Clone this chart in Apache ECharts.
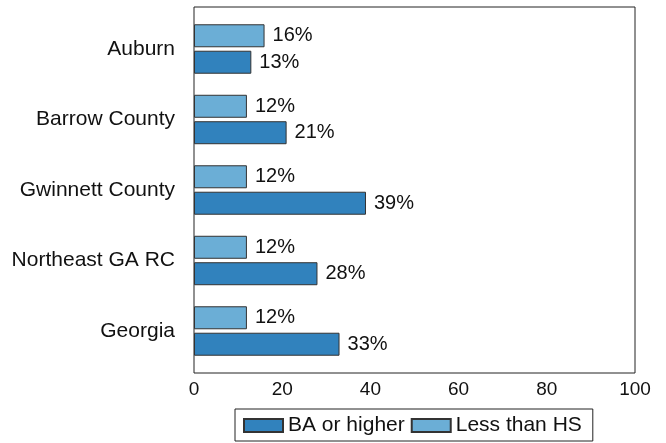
<!DOCTYPE html>
<html>
<head>
<meta charset="utf-8">
<script src="https://cdn.jsdelivr.net/npm/echarts@6/dist/echarts.min.js"></script>
<style>html,body{margin:0;padding:0;background:#fff;}#c{width:666px;height:443px;}</style>
</head>
<body>
<div id="c"></div>
<script>
var categories = ['Auburn', 'Barrow County', 'Gwinnett County', 'Northeast GA RC', 'Georgia'];
var lessThanHS = [16, 12, 12, 12, 12];
var baOrHigher = [13, 21, 39, 28, 33];
var xTicks = [0, 20, 40, 60, 80, 100];

var FONT = '"Liberation Sans", Arial, sans-serif';
var chart = echarts.init(document.getElementById('c'), null, {renderer: 'canvas'});
var labelStyle = {show: true, position: 'right', distance: 8, formatter: '{c}%', fontSize: 20, color: '#111', fontFamily: FONT};
chart.setOption({
  animation: false,
  textStyle: {fontFamily: FONT},
  grid: [
    {left: 194, right: 31, top: 13.75, bottom: 76.75, show: false},
    {left: 194, right: 31, top: 7, bottom: 70, show: true, borderColor: '#222', borderWidth: 1, backgroundColor: 'transparent'}
  ],
  legend: {
    data: ['BA or higher', 'Less than HS'],
    left: 235, top: 409,
    orient: 'horizontal',
    icon: 'rect',
    itemWidth: 39, itemHeight: 13, itemGap: 6,
    padding: [6, 11, 5, 8],
    borderColor: '#222', borderWidth: 1,
    textStyle: {fontSize: 21, color: '#111', fontFamily: FONT}
  },
  xAxis: [
    {gridIndex: 0, type: 'value', min: 0, max: 100, interval: 20, show: false},
    {gridIndex: 1, type: 'value', min: 0, max: 100, interval: 20,
     axisLine: {show: false}, axisTick: {show: false}, splitLine: {show: false},
     axisLabel: {fontSize: 19, color: '#111', margin: 7, fontFamily: FONT,
       formatter: function (v) { return xTicks.indexOf(v) >= 0 ? String(v) : ''; }}}
  ],
  yAxis: [
    {gridIndex: 0, type: 'category', data: categories, inverse: true,
     axisLine: {show: false}, axisTick: {show: false}, splitLine: {show: false},
     axisLabel: {fontSize: 21, color: '#111', margin: 19, fontFamily: FONT}},
    {gridIndex: 1, type: 'value', min: 0, max: 1, show: false}
  ],
  series: [
    {name: 'Less than HS', type: 'bar', xAxisIndex: 0, yAxisIndex: 0, data: lessThanHS,
     barWidth: 23, barGap: '15%',
     itemStyle: {color: '#6baed6', borderColor: '#333', borderWidth: 1}, label: labelStyle},
    {name: 'BA or higher', type: 'bar', xAxisIndex: 0, yAxisIndex: 0, data: baOrHigher,
     barWidth: 23, barGap: '15%',
     itemStyle: {color: '#3182bd', borderColor: '#333', borderWidth: 1}, label: labelStyle}
  ]
});
</script>
</body>
</html>
